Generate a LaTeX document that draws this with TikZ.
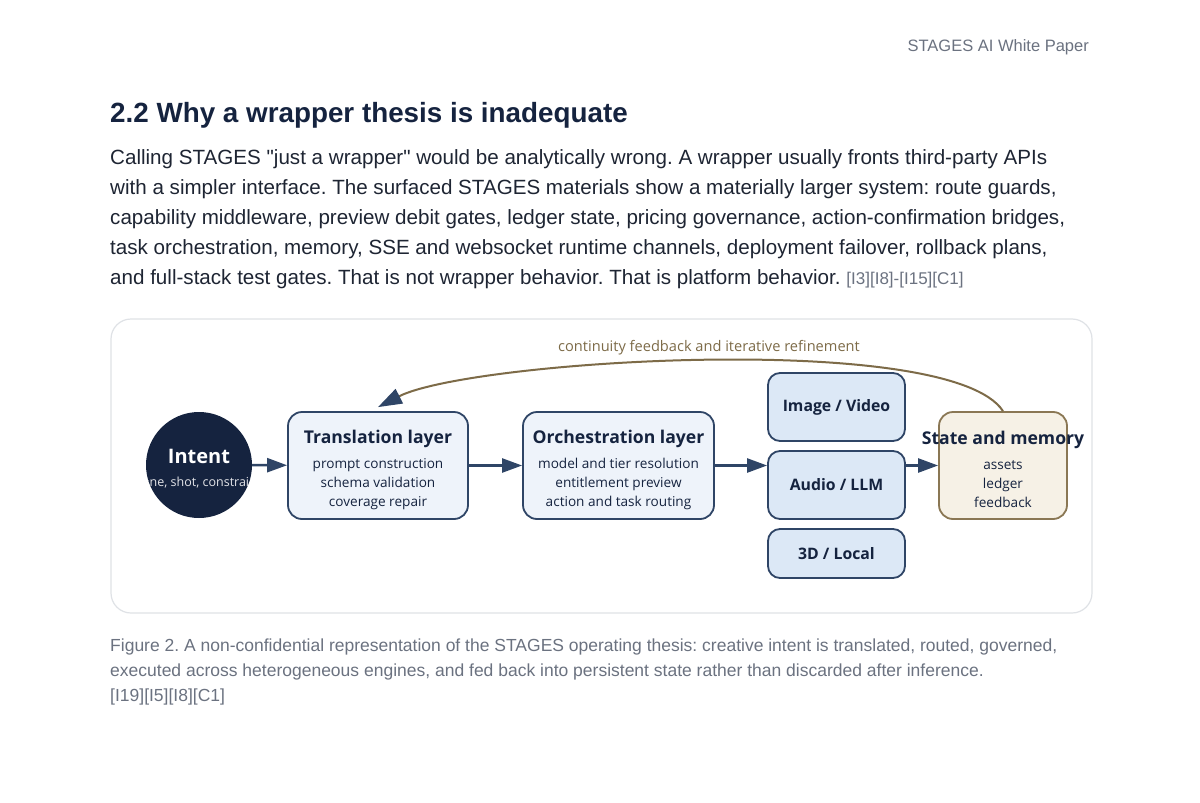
\documentclass[tikz,border=0pt]{standalone}
\usepackage{fontspec}
\setmainfont{Liberation Sans}
\newfontfamily\diagfont{Open Sans}
\usepackage{tikz}
\usetikzlibrary{positioning, arrows, arrows.meta}
\frenchspacing

\definecolor{inkNavy}{HTML}{15233F}
\definecolor{bodyInk}{HTML}{1E2533}
\definecolor{noteGray}{HTML}{6B7280}
\definecolor{boxLine}{HTML}{2F4566}
\definecolor{layerFill}{HTML}{EEF3FA}
\definecolor{engineFill}{HTML}{DCE8F6}
\definecolor{stateFill}{HTML}{F6F1E6}
\definecolor{stateLine}{HTML}{8A7754}
\definecolor{loopBrown}{HTML}{7D6B48}
\definecolor{frameGray}{HTML}{DFE2E6}

\tikzset{
  layerbox/.style={draw=boxLine, fill=layerFill, line width=1.8pt, rounded corners=14pt,
    minimum width=180pt, minimum height=107pt, align=center, text=inkNavy,
    font=\diagfont\fontsize{13.6}{19}\selectfont},
  enginebox/.style={draw=boxLine, fill=engineFill, line width=1.8pt, rounded corners=12pt,
    minimum width=137pt, text=inkNavy, font=\diagfont\bfseries\fontsize{15.8}{19}\selectfont},
  flow/.style={-{Triangle[length=20pt,width=14pt]}, line width=2.4pt, draw=boxLine},
  bodyline/.style={anchor=base west, inner sep=0pt, text=bodyInk, font=\fontsize{20.6}{30}\selectfont},
  captionline/.style={anchor=base west, inner sep=0pt, text=noteGray, font=\fontsize{17.5}{25}\selectfont}
}

\newcommand{\layertitle}[1]{\rule{0pt}{22pt}{\fontsize{17.6}{21}\selectfont\bfseries #1}}

\begin{document}
\begin{tikzpicture}[x=1pt, y=-1pt]
\useasboundingbox (0,0) rectangle (1200,803);
\fill[white] (0,0) rectangle (1200,803);

% page text
\node[anchor=base east, inner sep=0pt, text=noteGray, font=\fontsize{16.5}{20}\selectfont] (runhead) at (1089,51) {STAGES AI White Paper};
\node[anchor=base west, inner sep=0pt, text=inkNavy, font=\bfseries\fontsize{27.8}{32}\selectfont] (heading) at (110,122) {2.2 Why a wrapper thesis is inadequate};
\node[bodyline] (body1) at (110,164) {Calling STAGES \textquotedbl just a wrapper\textquotedbl{} would be analytically wrong. A wrapper usually fronts third-party APIs};
\node[bodyline] (body2) at (110,194) {with a simpler interface. The surfaced STAGES materials show a materially larger system: route guards,};
\node[bodyline] (body3) at (110,224) {capability middleware, preview debit gates, ledger state, pricing governance, action-confirmation bridges,};
\node[bodyline] (body4) at (110,254) {task orchestration, memory, SSE and websocket runtime channels, deployment failover, rollback plans,};
\node[bodyline] (body5) at (110,284) {and full-stack test gates. That is not wrapper behavior. That is platform behavior. {\color{noteGray}\fontsize{17}{20}\selectfont[I3][I8]-[I15][C1]}};

% figure frame
\draw[frameGray, line width=1.2pt, fill=white, rounded corners=20pt] (111,319) rectangle (1092,613);

% nodes
\node[circle, fill=inkNavy, minimum size=106pt, inner sep=0pt] (intent) at (199,465) {};
\begin{scope}
  \clip (199,465) circle (53pt);
  \node[text=white!88!inkNavy, font=\diagfont\fontsize{12.5}{15}\selectfont] (intentsub) at (199,483) {scene, shot, constraints};
\end{scope}
\node[text=white, font=\diagfont\bfseries\fontsize{20}{23}\selectfont] (intentlbl) at (199,456) {Intent};

\node[layerbox] (transl) at (378,465.5) {\layertitle{Translation layer}\\[6pt]prompt construction\\schema validation\\coverage repair};
\node[layerbox, minimum width=191pt] (orch) at (618.5,465.5) {\layertitle{Orchestration layer}\\[6pt]model and tier resolution\\entitlement preview\\action and task routing};

\node[enginebox, minimum height=68pt] (imgvid) at (836.5,407) {Image / Video};
\node[enginebox, minimum height=68pt] (audio) at (836.5,485) {Audio / LLM};
\node[enginebox, minimum height=49pt] (local3d) at (836.5,553.5) {3D / Local};

\node[layerbox, draw=stateLine, fill=stateFill, minimum width=128pt] (state) at (1003,465.5) {\makebox[0pt]{\layertitle{State and memory}}\\[6pt]assets\\ledger\\feedback};

\node[text=loopBrown, font=\diagfont\fontsize{14.6}{17}\selectfont] (fblabel) at (709,348) {continuity feedback and iterative refinement};

% arrows
\draw[flow] (intent) -- (transl);
\draw[flow] (transl) -- (orch);
\draw[flow] (orch.east) -- (orch.east -| audio.west);
\draw[flow] (state.west -| audio.east) -- (state.west);
\draw[-{Triangle[length=24pt,width=16pt,color=boxLine]}, loopBrown, line width=2pt]
  (state.north) .. controls (950,330) and (470,360) .. ([yshift=4pt]transl.north);

% caption
\node[captionline] (cap1) at (110,651) {Figure 2. A non-confidential representation of the STAGES operating thesis: creative intent is translated, routed, governed,};
\node[captionline] (cap2) at (110,676) {executed across heterogeneous engines, and fed back into persistent state rather than discarded after inference.};
\node[captionline] (cap3) at (110,701) {[I19][I5][I8][C1]};
\end{tikzpicture}
\end{document}
